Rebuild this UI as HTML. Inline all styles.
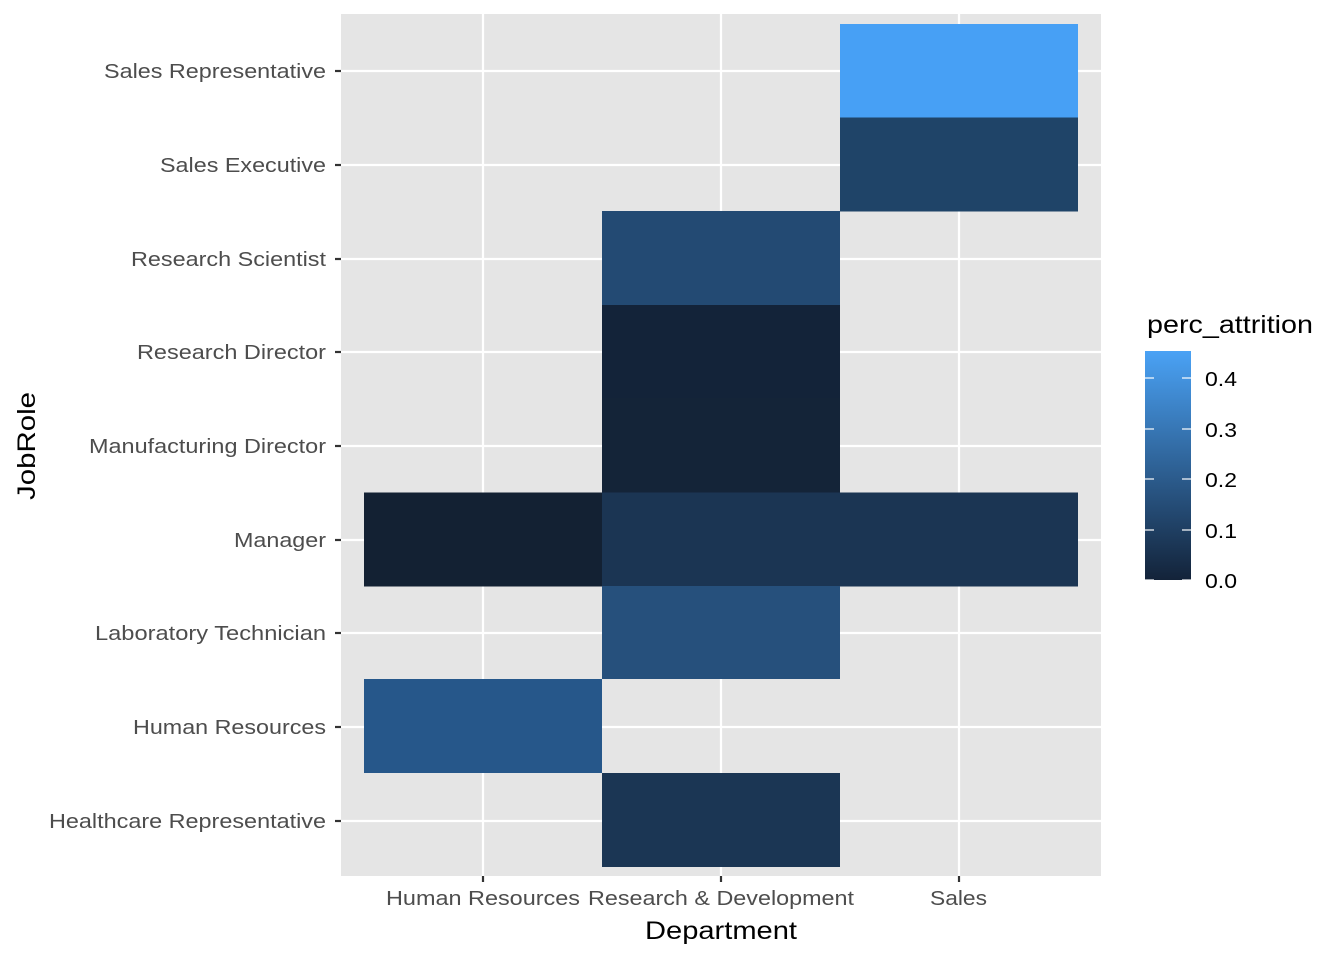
<!DOCTYPE html>
<html><head><meta charset="utf-8"><style>body{margin:0;background:#fff}</style></head><body>
<svg width="1344" height="960" xmlns="http://www.w3.org/2000/svg" font-family="Liberation Sans, Arial, sans-serif">
<defs><linearGradient id="g" x1="0" y1="1" x2="0" y2="0">
<stop offset="0" stop-color="#132339"/><stop offset="1" stop-color="#4aa2f5"/></linearGradient></defs>
<rect x="341" y="14" width="760" height="862" fill="#e5e5e5"/>
<g stroke="#fff" stroke-width="2.2">
<line x1="483" y1="14" x2="483" y2="876"/><line x1="721" y1="14" x2="721" y2="876"/><line x1="959" y1="14" x2="959" y2="876"/>
<line x1="341" y1="71" x2="1101" y2="71"/><line x1="341" y1="165" x2="1101" y2="165"/><line x1="341" y1="259" x2="1101" y2="259"/><line x1="341" y1="352" x2="1101" y2="352"/><line x1="341" y1="446" x2="1101" y2="446"/><line x1="341" y1="540" x2="1101" y2="540"/><line x1="341" y1="633" x2="1101" y2="633"/><line x1="341" y1="727" x2="1101" y2="727"/><line x1="341" y1="821" x2="1101" y2="821"/>
</g>
<rect x="840" y="24" width="238" height="94" fill="#47a0f5"/>
<rect x="840" y="117.5" width="238" height="94" fill="#1f4468"/>
<rect x="602" y="211" width="238" height="94" fill="#234a73"/>
<rect x="602" y="305" width="238" height="94" fill="#132339"/>
<rect x="602" y="398.5" width="238" height="94" fill="#142438"/>
<rect x="364" y="492.5" width="238" height="94" fill="#132133"/>
<rect x="602" y="492.5" width="476" height="94" fill="#1b3553"/>
<rect x="602" y="586" width="238" height="93" fill="#26507c"/>
<rect x="364" y="679" width="238" height="94" fill="#26578a"/>
<rect x="602" y="773" width="238" height="94" fill="#1b3654"/>
<g stroke="#333" stroke-width="2.2">
<line x1="335" y1="71" x2="341" y2="71"/><line x1="335" y1="165" x2="341" y2="165"/><line x1="335" y1="259" x2="341" y2="259"/><line x1="335" y1="352" x2="341" y2="352"/><line x1="335" y1="446" x2="341" y2="446"/><line x1="335" y1="540" x2="341" y2="540"/><line x1="335" y1="633" x2="341" y2="633"/><line x1="335" y1="727" x2="341" y2="727"/><line x1="335" y1="821" x2="341" y2="821"/>
<line x1="483" y1="876" x2="483" y2="882"/><line x1="721" y1="876" x2="721" y2="882"/><line x1="959" y1="876" x2="959" y2="882"/>
</g>
<g font-size="20" fill="#4d4d4d" lengthAdjust="spacingAndGlyphs">
<text x="104" y="78" textLength="222" lengthAdjust="spacingAndGlyphs">Sales Representative</text>
<text x="160" y="172" textLength="166" lengthAdjust="spacingAndGlyphs">Sales Executive</text>
<text x="131" y="266" textLength="195" lengthAdjust="spacingAndGlyphs">Research Scientist</text>
<text x="137" y="359" textLength="189" lengthAdjust="spacingAndGlyphs">Research Director</text>
<text x="89" y="453" textLength="237" lengthAdjust="spacingAndGlyphs">Manufacturing Director</text>
<text x="234" y="547" textLength="92" lengthAdjust="spacingAndGlyphs">Manager</text>
<text x="95" y="640" textLength="231" lengthAdjust="spacingAndGlyphs">Laboratory Technician</text>
<text x="133" y="734" textLength="193" lengthAdjust="spacingAndGlyphs">Human Resources</text>
<text x="49" y="828" textLength="277" lengthAdjust="spacingAndGlyphs">Healthcare Representative</text>
<text x="386" y="905" textLength="194" lengthAdjust="spacingAndGlyphs">Human Resources</text>
<text x="588" y="905" textLength="266" lengthAdjust="spacingAndGlyphs">Research &amp; Development</text>
<text x="930" y="905" textLength="57" lengthAdjust="spacingAndGlyphs">Sales</text>
</g>
<text x="645" y="939" font-size="25" textLength="152" lengthAdjust="spacingAndGlyphs">Department</text>
<text transform="translate(35,500) rotate(-90)" font-size="25" textLength="108" lengthAdjust="spacingAndGlyphs">JobRole</text>
<text x="1147" y="333" font-size="25" textLength="166" lengthAdjust="spacingAndGlyphs">perc_attrition</text>
<rect x="1145" y="351" width="46" height="229" fill="url(#g)"/>
<g stroke="#fff" stroke-width="1.2">
<line x1="1145" y1="378" x2="1154" y2="378"/><line x1="1182" y1="378" x2="1191" y2="378"/>
<line x1="1145" y1="429" x2="1154" y2="429"/><line x1="1182" y1="429" x2="1191" y2="429"/>
<line x1="1145" y1="479" x2="1154" y2="479"/><line x1="1182" y1="479" x2="1191" y2="479"/>
<line x1="1145" y1="530" x2="1154" y2="530"/><line x1="1182" y1="530" x2="1191" y2="530"/>
<line x1="1145" y1="580" x2="1154" y2="580"/><line x1="1182" y1="580" x2="1191" y2="580"/>
</g>
<g font-size="20" fill="#000">
<text x="1205" y="386" textLength="32" lengthAdjust="spacingAndGlyphs">0.4</text><text x="1205" y="437" textLength="32" lengthAdjust="spacingAndGlyphs">0.3</text><text x="1205" y="487" textLength="32" lengthAdjust="spacingAndGlyphs">0.2</text><text x="1205" y="538" textLength="32" lengthAdjust="spacingAndGlyphs">0.1</text><text x="1205" y="588" textLength="32" lengthAdjust="spacingAndGlyphs">0.0</text>
</g>
</svg>
</body></html>
